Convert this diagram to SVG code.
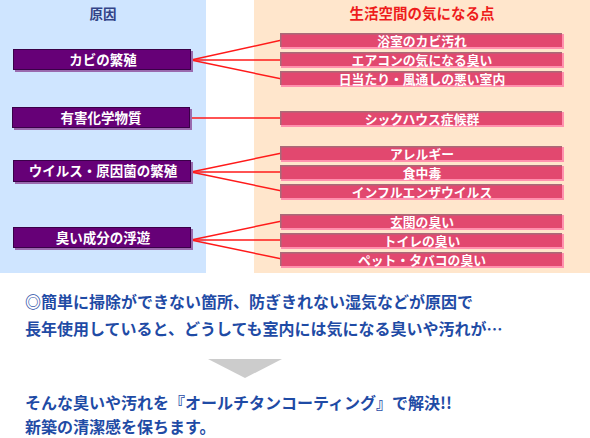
<svg xmlns="http://www.w3.org/2000/svg" width="590" height="438" viewBox="0 0 590 438">
<style>
.jp{font-family:"Noto Sans CJK JP","Noto Sans",sans-serif;font-weight:bold}
.cause-shadow{fill:#9a6aae}
.cause-body{fill:#660077;stroke:#3a0048;stroke-width:1}
.cause-text{fill:#ffffff;font-size:13.5px;text-anchor:middle}
.eff-shadow{fill:#ff90ae}
.eff-body{fill:#e2486f}
.eff-edge{fill:#a86a78}
.eff-text{fill:#ffffff;font-size:12.8px;text-anchor:middle}
.conn{stroke:#ff1a1a;stroke-width:1.5;fill:none}
.msg{fill:#1f4ba5;font-size:16px}
</style>
<rect x="0" y="0" width="206" height="273" fill="#cfe5ff"/>
<rect x="254" y="0" width="336" height="273" fill="#ffe6cc"/>
<text class="jp" x="103" y="19" font-size="13.5" fill="#334488" text-anchor="middle">原因</text>
<text class="jp" x="422" y="19" font-size="14.5" fill="#ee1c1c" text-anchor="middle">生活空間の気になる点</text>

<g id="connectors">
<line class="conn" x1="191" y1="60" x2="282" y2="40"/>
<line class="conn" x1="191" y1="60" x2="282" y2="60"/>
<line class="conn" x1="191" y1="60" x2="282" y2="79"/>
<line class="conn" x1="191" y1="118" x2="282" y2="118"/>
<line class="conn" x1="191" y1="172" x2="282" y2="153"/>
<line class="conn" x1="191" y1="172" x2="282" y2="172"/>
<line class="conn" x1="191" y1="172" x2="282" y2="191"/>
<line class="conn" x1="191" y1="240" x2="282" y2="221"/>
<line class="conn" x1="191" y1="240" x2="282" y2="240"/>
<line class="conn" x1="191" y1="240" x2="282" y2="259"/>
</g>

<g id="cause1">
<rect class="cause-shadow" x="15" y="51" width="178" height="21"/>
<rect class="cause-body" x="13.5" y="49.5" width="177" height="20"/>
<text class="jp cause-text" x="103" y="64.5">カビの繁殖</text>
</g>
<g id="cause2">
<rect class="cause-shadow" x="14" y="109" width="178" height="21"/>
<rect class="cause-body" x="12.5" y="107.5" width="177" height="20"/>
<text class="jp cause-text" x="101" y="122.5">有害化学物質</text>
</g>
<g id="cause3">
<rect class="cause-shadow" x="15" y="162" width="178" height="22"/>
<rect class="cause-body" x="13.5" y="160.5" width="177" height="21"/>
<text class="jp cause-text" x="103" y="176">ウイルス・原因菌の繁殖</text>
</g>
<g id="cause4">
<rect class="cause-shadow" x="15" y="229" width="178" height="21"/>
<rect class="cause-body" x="13.5" y="227.5" width="177" height="20"/>
<text class="jp cause-text" x="103" y="242.5">臭い成分の浮遊</text>
</g>

<defs>
<g id="pinkbox">
<rect class="eff-shadow" x="1" y="1" width="283" height="15"/>
<rect class="eff-edge" x="0" y="0" width="282" height="14"/>
<rect class="eff-body" x="1.5" y="1.5" width="280.5" height="12.5"/>
</g>
</defs>

<g id="eff1"><use href="#pinkbox" x="280" y="33"/><text class="jp eff-text" x="422" y="45.5">浴室のカビ汚れ</text></g>
<g id="eff2"><use href="#pinkbox" x="280" y="52"/><text class="jp eff-text" x="422" y="64.5">エアコンの気になる臭い</text></g>
<g id="eff3"><use href="#pinkbox" x="280" y="71"/><text class="jp eff-text" x="422" y="83.5">日当たり・風通しの悪い室内</text></g>
<g id="eff4"><use href="#pinkbox" x="280" y="111"/><text class="jp eff-text" x="422" y="123.5">シックハウス症候群</text></g>
<g id="eff5"><use href="#pinkbox" x="280" y="146"/><text class="jp eff-text" x="422" y="158.5">アレルギー</text></g>
<g id="eff6"><use href="#pinkbox" x="280" y="165"/><text class="jp eff-text" x="422" y="177.5">食中毒</text></g>
<g id="eff7"><use href="#pinkbox" x="280" y="184"/><text class="jp eff-text" x="422" y="196.5">インフルエンザウイルス</text></g>
<g id="eff8"><use href="#pinkbox" x="280" y="214"/><text class="jp eff-text" x="422" y="226.5">玄関の臭い</text></g>
<g id="eff9"><use href="#pinkbox" x="280" y="233"/><text class="jp eff-text" x="422" y="245.5">トイレの臭い</text></g>
<g id="eff10"><use href="#pinkbox" x="280" y="252"/><text class="jp eff-text" x="422" y="264.5">ペット・タバコの臭い</text></g>

<text class="jp msg" x="25" y="308">◎簡単に掃除ができない箇所、防ぎきれない湿気などが原因で</text>
<text class="jp msg" x="25" y="335">長年使用していると、どうしても室内には気になる臭いや汚れが…</text>
<polygon points="208,359 282,359 245,378" fill="#cccccc"/>
<text class="jp msg" x="25" y="409">そんな臭いや汚れを『オールチタンコーティング』で解決!!</text>
<text class="jp msg" x="25" y="433">新築の清潔感を保ちます。</text>
</svg>
